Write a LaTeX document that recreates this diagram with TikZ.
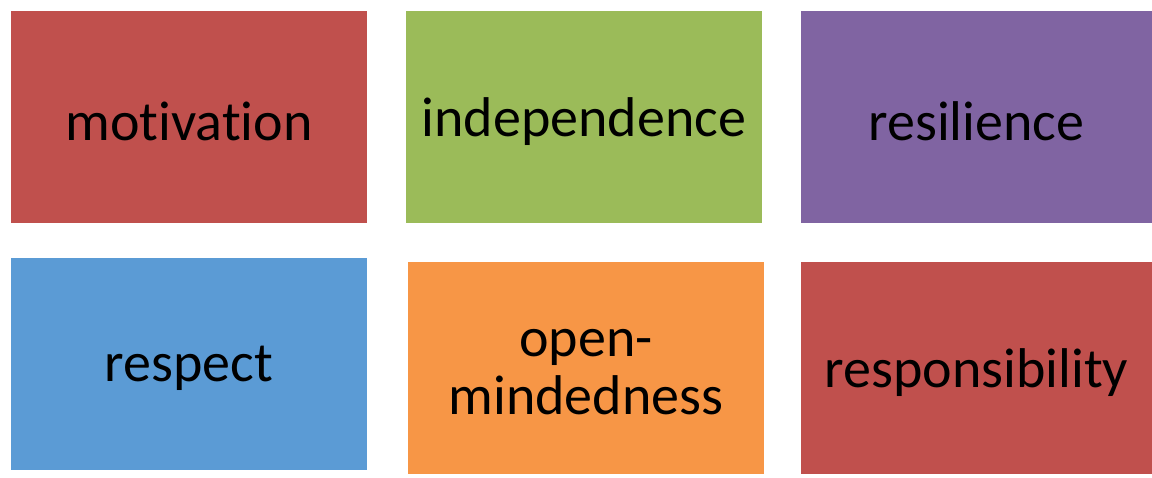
\documentclass[tikz,border=0pt]{standalone}
\usepackage{fontspec}
\setmainfont{Carlito}[Ligatures=NoCommon]
\usetikzlibrary{positioning}
\definecolor{redcolor}{HTML}{C0504D}
\definecolor{greencolor}{HTML}{9BBB59}
\definecolor{purplecolor}{HTML}{8064A2}
\definecolor{bluecolor}{HTML}{5B9BD5}
\definecolor{orangecolor}{HTML}{F79646}

\begin{document}
\begin{tikzpicture}[
    x=1pt, y={(0pt,-1pt)},
    valuetext/.style={inner sep=0pt, align=center, text=black, yshift=-4.5pt, font=\fontsize{56}{58}\selectfont}
]
\useasboundingbox (0,0) rectangle (1152,477);

% Top row
\fill[redcolor] (11,11) rectangle node[valuetext] (motivation) {motivation} (367,223);
\fill[greencolor] (406,11) rectangle node[valuetext] (independence) {independence} (762,223);
\fill[purplecolor] (801,11) rectangle node[valuetext] (resilience) {resilience} (1152,223);

% Bottom row
\fill[bluecolor] (11,258) rectangle node[valuetext] (respect) {respect} (367,470);
\fill[orangecolor] (408,262) rectangle node[valuetext] (openminded) {open-\\mindedness} (764,474);
\fill[redcolor] (801,262) rectangle node[valuetext] (responsibility) {responsibility} (1152,474);

\end{tikzpicture}
\end{document}
